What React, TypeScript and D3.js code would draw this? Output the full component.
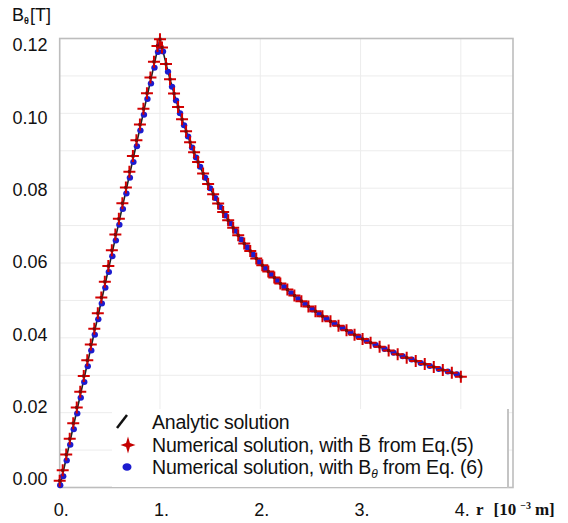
import React, { useEffect, useRef } from 'react';
import * as d3 from 'd3';

// axis ticks
const xTicks = [0, 1, 2, 3, 4];
const xTickLabels = ['0.', '1.', '2.', '3.', '4.'];
const yTicks = [0, 0.02, 0.04, 0.06, 0.08, 0.1, 0.12];
const yTickLabels = ['0.00', '0.02', '0.04', '0.06', '0.08', '0.10', '0.12'];
const yGrid = [0.01, 0.02, 0.03, 0.04, 0.05, 0.06, 0.07, 0.08, 0.09, 0.1, 0.11];

// analytic solution (inside: straight, outside: 1/r decay)
const innerR = [0, 0.5, 1];
const innerB = [0, 0.06, 0.12];
const outerR = [1, 1.1, 1.2, 1.3, 1.4, 1.5, 1.6, 1.8, 2.0, 2.2, 2.4, 2.6, 2.8, 3.0, 3.25, 3.5, 3.75, 4.0];
const outerB = [0.12, 0.1091, 0.1, 0.0923, 0.0857, 0.08, 0.075, 0.0667, 0.06, 0.0545, 0.05, 0.0462, 0.0429, 0.04, 0.0369, 0.0343, 0.032, 0.0298];

// numerical solution, Eq.(5) (red crosses)
const crossR = [
  0, 0.03, 0.065, 0.1, 0.135, 0.17, 0.205, 0.24, 0.275, 0.31, 0.345, 0.38, 0.415, 0.45, 0.485,
  0.52, 0.555, 0.59, 0.625, 0.66, 0.695, 0.73, 0.765, 0.8, 0.835, 0.87, 0.905, 0.94, 0.975, 1.0,
  1.02, 1.06, 1.1, 1.14, 1.18, 1.22, 1.26, 1.3, 1.34, 1.38, 1.43, 1.48, 1.53, 1.58, 1.63, 1.68,
  1.73, 1.78, 1.84, 1.9, 1.96, 2.02, 2.08, 2.14, 2.2, 2.27, 2.34, 2.41, 2.48, 2.55, 2.62, 2.7,
  2.78, 2.86, 2.94, 3.02, 3.1, 3.19, 3.28, 3.37, 3.46, 3.55, 3.64, 3.73, 3.82, 3.91, 4.0,
];
const crossB = [
  0.0018, 0.0046, 0.0088, 0.013, 0.0172, 0.0214, 0.0256, 0.0298, 0.034, 0.0382, 0.0424, 0.0466, 0.0508, 0.055, 0.0592,
  0.0634, 0.0676, 0.0718, 0.076, 0.0802, 0.0844, 0.0886, 0.0928, 0.097, 0.1012, 0.1054, 0.1096, 0.1138, 0.118, 0.1198,
  0.1176, 0.1132, 0.1091, 0.1053, 0.1017, 0.0984, 0.0952, 0.0923, 0.0896, 0.087, 0.0839, 0.0811, 0.0784, 0.0759, 0.0736, 0.0714,
  0.0694, 0.0674, 0.0652, 0.0632, 0.0612, 0.0594, 0.0577, 0.0561, 0.0545, 0.0529, 0.0513, 0.0498, 0.0484, 0.0471, 0.0458, 0.0444,
  0.0432, 0.042, 0.0408, 0.0397, 0.0387, 0.0376, 0.0366, 0.0356, 0.0347, 0.0338, 0.033, 0.0322, 0.0314, 0.0307, 0.0296,
];

// numerical solution, Eq.(6) (blue dots)
const dotR = [
  0.005, 0.035, 0.07, 0.105, 0.14, 0.175, 0.21, 0.245, 0.28, 0.315, 0.35, 0.385, 0.42, 0.455, 0.49,
  0.525, 0.56, 0.595, 0.63, 0.665, 0.7, 0.735, 0.77, 0.805, 0.84, 0.875, 0.91, 0.945, 0.98, 0.99,
  1.03, 1.08, 1.12, 1.16, 1.2, 1.24, 1.28, 1.32, 1.36, 1.4, 1.45, 1.5, 1.55, 1.6, 1.65, 1.7,
  1.75, 1.81, 1.87, 1.93, 1.99, 2.05, 2.11, 2.17, 2.24, 2.31, 2.38, 2.45, 2.52, 2.59, 2.66, 2.74,
  2.82, 2.9, 2.98, 3.06, 3.15, 3.24, 3.33, 3.42, 3.51, 3.6, 3.69, 3.78, 3.87, 3.96,
];
const dotB = [
  0.0006, 0.003, 0.0072, 0.0114, 0.0156, 0.0198, 0.024, 0.0282, 0.0324, 0.0366, 0.0408, 0.045, 0.0492, 0.0534, 0.0576,
  0.0618, 0.066, 0.0702, 0.0744, 0.0786, 0.0828, 0.087, 0.0912, 0.0954, 0.0996, 0.1038, 0.108, 0.1122, 0.1164, 0.118,
  0.1165, 0.1111, 0.1071, 0.1034, 0.1, 0.0968, 0.0938, 0.0909, 0.0882, 0.0857, 0.0828, 0.08, 0.0774, 0.075, 0.0727, 0.0706,
  0.0686, 0.0663, 0.0642, 0.0622, 0.0603, 0.0585, 0.0569, 0.0553, 0.0536, 0.0519, 0.0504, 0.049, 0.0476, 0.0463, 0.0451, 0.0438,
  0.0426, 0.0414, 0.0403, 0.0392, 0.0381, 0.037, 0.036, 0.0351, 0.0342, 0.0333, 0.0325, 0.0317, 0.031, 0.0303,
];

const legendLabels = ['Analytic solution', 'Numerical solution, with ', 'Numerical solution, with '];

const W = 568;
const H = 523;
const SANS = 'Arial, "Liberation Sans", sans-serif';
const SERIF = '"Times New Roman", "Liberation Serif", serif';
const RED = '#d40000';
const BLUE = '#1c1ccf';

const crossPath = 'M-6,0H6M0,-6V6';
const starPath = 'M0,-8.5 L1.9,-1.9 L7.5,0 L1.9,1.9 L0,8.5 L-1.9,1.9 L-7.5,0 L-1.9,-1.9 Z';

const FieldChart = () => {
  const ref = useRef<SVGSVGElement>(null);

  useEffect(() => {
    const svg = d3.select(ref.current);
    svg.selectAll('*').remove();

    const x = d3.scaleLinear().domain([0, 4.52]).range([59.7, 513]);
    const y = d3.scaleLinear().domain([0, 0.12]).range([487.5, 38.5]);
    // tick labels in the original sit on a slightly tighter scale than the grid
    const yLab = d3.scaleLinear().domain([0, 0.12]).range([479, 45]);

    svg.append('rect').attr('width', W).attr('height', H).attr('fill', '#fff');

    // grid
    const grid = svg.append('g').attr('stroke', '#ececec').attr('stroke-width', 1);
    grid
      .selectAll('.gy')
      .data(yGrid)
      .enter()
      .append('line')
      .attr('x1', x(0))
      .attr('x2', x(4.52))
      .attr('y1', (d) => y(d))
      .attr('y2', (d) => y(d));
    grid
      .selectAll('.gx')
      .data(xTicks.slice(1))
      .enter()
      .append('line')
      .attr('x1', (d) => x(d))
      .attr('x2', (d) => x(d))
      .attr('y1', y(0))
      .attr('y2', y(0.12));

    // frame
    svg
      .append('rect')
      .attr('x', x(0))
      .attr('y', y(0.12))
      .attr('width', x(4.52) - x(0))
      .attr('height', y(0) - y(0.12))
      .attr('fill', 'none')
      .attr('stroke', '#bdbdbd')
      .attr('stroke-width', 1.6);

    // analytic line, two pieces so the kink at r = 1 stays sharp
    const lineLin = d3
      .line<[number, number]>()
      .x((d) => x(d[0]))
      .y((d) => y(d[1]));
    const lineCurve = d3
      .line<[number, number]>()
      .x((d) => x(d[0]))
      .y((d) => y(d[1]))
      .curve(d3.curveMonotoneX);
    svg
      .append('path')
      .datum(innerR.map((r, i) => [r, innerB[i]] as [number, number]))
      .attr('d', lineLin)
      .attr('fill', 'none')
      .attr('stroke', '#222')
      .attr('stroke-width', 1.6);
    svg
      .append('path')
      .datum(outerR.map((r, i) => [r, outerB[i]] as [number, number]))
      .attr('d', lineCurve)
      .attr('fill', 'none')
      .attr('stroke', '#222')
      .attr('stroke-width', 1.6);

    // blue dots
    svg
      .append('g')
      .selectAll('ellipse')
      .data(dotR.map((r, i) => [r, dotB[i]]))
      .enter()
      .append('ellipse')
      .attr('cx', (d) => x(d[0]))
      .attr('cy', (d) => y(d[1]))
      .attr('rx', 3.2)
      .attr('ry', 3)
      .attr('fill', BLUE);

    // red crosses
    const crosses = svg
      .append('g')
      .selectAll('g')
      .data(crossR.map((r, i) => [r, crossB[i]]))
      .enter()
      .append('g')
      .attr('transform', (d) => `translate(${x(d[0])},${y(d[1])})`);
    crosses.append('path').attr('d', crossPath).attr('stroke', RED).attr('stroke-width', 2).attr('fill', 'none');
    crosses.append('rect').attr('x', -1.5).attr('y', -1.5).attr('width', 3).attr('height', 3).attr('fill', '#7a0a0a');

    // y tick labels
    svg
      .append('g')
      .selectAll('text')
      .data(yTicks)
      .enter()
      .append('text')
      .attr('x', 47.5)
      .attr('y', (d) => yLab(d))
      .attr('dy', '0.36em')
      .attr('text-anchor', 'end')
      .attr('font-family', SANS)
      .attr('font-size', 18)
      .attr('fill', '#111')
      .text((d, i) => yTickLabels[i]);

    // x tick labels
    svg
      .append('g')
      .selectAll('text')
      .data(xTicks)
      .enter()
      .append('text')
      .attr('x', (d) => x(d) + 1.5)
      .attr('y', 516)
      .attr('text-anchor', 'middle')
      .attr('font-family', SANS)
      .attr('font-size', 18)
      .attr('fill', '#111')
      .text((d, i) => xTickLabels[i]);

    // x axis title
    const xt = svg
      .append('text')
      .attr('x', 476)
      .attr('y', 515)
      .attr('font-family', SERIF)
      .attr('font-weight', 'bold')
      .attr('font-size', 17)
      .attr('fill', '#111');
    xt.append('tspan').text('r');
    xt.append('tspan').attr('dx', 10).text('[10');
    xt.append('tspan').attr('dx', 4).attr('dy', -6).attr('font-size', 10).text('\u22123');
    xt.append('tspan').attr('dx', 4).attr('dy', 6).text('m]');

    // y axis title
    const yt = svg
      .append('text')
      .attr('x', 12)
      .attr('y', 21)
      .attr('font-family', SANS)
      .attr('font-size', 18)
      .attr('fill', '#111');
    yt.append('tspan').text('B');
    yt.append('tspan').attr('dy', 3).attr('font-size', 9).attr('font-weight', 'bold').text('\u03b8');
    yt.append('tspan').attr('dy', -3).attr('dx', 1).text('[T]');

    // legend
    const lg = svg.append('g');
    lg.append('rect').attr('x', 112).attr('y', 409).attr('width', 396).attr('height', 78).attr('fill', '#fff');
    lg.append('line').attr('x1', 508).attr('x2', 508).attr('y1', 409).attr('y2', 488).attr('stroke', '#c4c4c4').attr('stroke-width', 2);
    lg.append('line').attr('x1', 117).attr('y1', 428).attr('x2', 127).attr('y2', 415).attr('stroke', '#111').attr('stroke-width', 2.5);
    lg.append('path').attr('d', starPath).attr('transform', 'translate(128,445)').attr('fill', '#c40000');
    lg.append('ellipse').attr('cx', 127).attr('cy', 467).attr('rx', 4.5).attr('ry', 3.8).attr('fill', BLUE);

    const rows = [422, 445, 467];
    rows.forEach((ry, i) => {
      const t = lg
        .append('text')
        .attr('x', 152)
        .attr('y', ry)
        .attr('dy', '0.36em')
        .attr('font-family', SANS)
        .attr('font-size', 19.5)
        .attr('letter-spacing', -0.2)
        .attr('fill', '#111')
        .text(legendLabels[i]);
      if (i === 1) {
        t.append('tspan').text('B\u0304');
        t.append('tspan').attr('dx', 7).text('from Eq.(5)');
      }
      if (i === 2) {
        t.append('tspan').text('B');
        t.append('tspan').attr('dy', 4).attr('font-size', 12).attr('font-style', 'italic').text('\u03b8');
        t.append('tspan').attr('dy', -4).text(' from Eq. (6)');
      }
    });
  }, []);

  return <svg ref={ref} width={W} height={H} style={{ position: 'absolute', left: 0, top: 0 }} />;
};

export default function App() {
  return <FieldChart />;
}
